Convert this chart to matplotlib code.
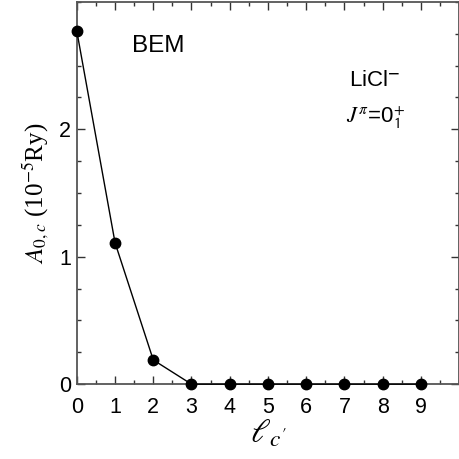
import numpy as np
import matplotlib
matplotlib.use("Agg")
import matplotlib.pyplot as plt
from matplotlib.ticker import MultipleLocator

# --- data ---
l_values = [0, 1, 2, 3, 4, 5, 6, 7, 8, 9]
amplitude = [2.77, 1.11, 0.19, 0.0, 0.0, 0.0, 0.0, 0.0, 0.0, 0.0]
x_ticks = [0, 1, 2, 3, 4, 5, 6, 7, 8, 9]
y_ticks = [0, 1, 2]

plt.rcParams["font.family"] = ["Liberation Sans", "DejaVu Sans"]
plt.rcParams["mathtext.fontset"] = "stix"

fig = plt.figure(figsize=(4.6, 4.59), dpi=100)
ax = fig.add_axes([0.167, 0.163, 0.831, 0.833])

ax.plot(l_values, amplitude, color="black", lw=1.0, marker="o",
        markersize=7.5, markerfacecolor="black", clip_on=False, zorder=3)

ax.set_xlim(0, 10)
ax.set_ylim(0, 3)
ax.set_xticks(x_ticks)
ax.set_yticks(y_ticks)
ax.xaxis.set_minor_locator(MultipleLocator(0.5))
ax.yaxis.set_minor_locator(MultipleLocator(0.25))
ax.tick_params(which="both", direction="in", top=True, right=True,
               labelsize=15.5, color="#333333", width=1.0)
ax.tick_params(which="major", length=6)
ax.tick_params(which="minor", length=3)
ax.tick_params(axis="x", pad=9)
ax.tick_params(axis="y", pad=4)
for s in ax.spines.values():
    s.set_linewidth(1.3)
    s.set_color("#555555")

ax.set_ylabel(r"$A_{0,c}$ (10$^{-5}$Ry)", family="Liberation Serif",
              fontsize=18, labelpad=6)
ax.set_xlabel(r"$\ell_{c'}$", fontsize=24, labelpad=0)

ax.text(2.13, 2.65, "BEM", fontsize=17.5, ha="center", va="center")
ax.text(7.8, 2.38, "LiCl$^{\\mathbf{-}}$", fontsize=16, ha="center", va="center")
ax.text(7.8, 2.09, r"$J^{\pi}$=0$^{\mathsf{+}}_{\mathsf{1}}$", fontsize=16,
        ha="center", va="center")

fig.savefig("out.png", dpi=100)
